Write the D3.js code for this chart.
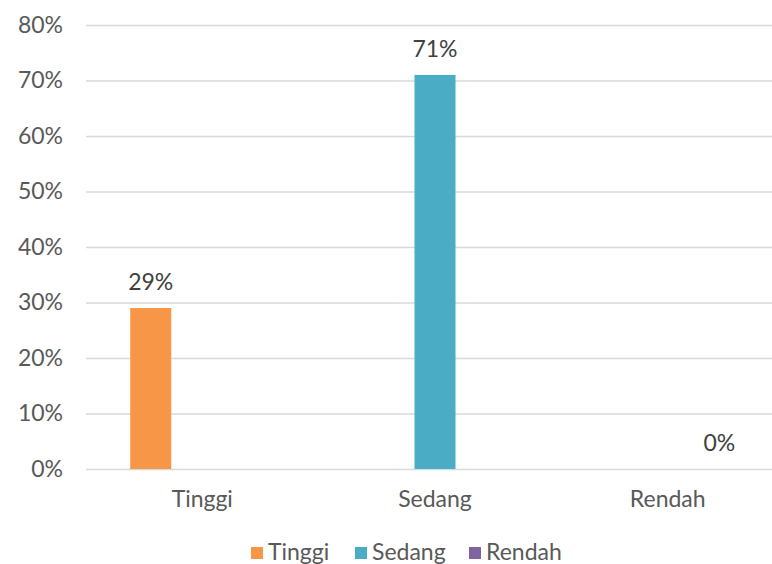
<html>
<head>
<script src="https://d3js.org/d3.v7.min.js"></script>
<style>
	body { margin: 0; background: #fff; }
	text { font-family: Lato, "Open Sans", sans-serif; }
</style>
</head>
<body>
<svg width="772" height="564"></svg>
<script>
	// categories, series and values (null = empty cell)
	var categories = ["Tinggi", "Sedang", "Rendah"];
	var seriesNames = ["Tinggi", "Sedang", "Rendah"];
	var tinggiValues = [0.29, null, null];
	var sedangValues = [null, 0.71, null];
	var rendahValues = [null, null, 0];
	var yTicks = [0, 0.1, 0.2, 0.3, 0.4, 0.5, 0.6, 0.7, 0.8];
	var colors = ["#F79646", "#4BACC6", "#8064A2"];

	var series = [tinggiValues, sedangValues, rendahValues];

	var svg = d3.select("svg");

	// plot area
	var plotLeft = 86, plotRight = 784, plotTop = 25, plotBottom = 469;

	var x = d3.scaleBand().domain(categories).range([plotLeft, plotRight])
		.paddingInner(0.381).paddingOuter(0.19);
	var xInner = d3.scaleBand().domain(seriesNames).range([0, x.bandwidth()])
		.paddingInner(0.204);
	var y = d3.scaleLinear().domain([0, 0.8]).range([plotBottom, plotTop]);

	var pct = d3.format(".0%");

	// gridlines + y labels
	var yAxis = svg.append("g").attr("transform", "translate(" + plotLeft + ",0)")
		.call(d3.axisLeft(y).tickValues(yTicks).tickFormat(pct)
			.tickSize(-(plotRight - plotLeft)).tickPadding(23));
	yAxis.select(".domain").remove();
	yAxis.selectAll(".tick line").attr("stroke", "#d9d9d9").attr("stroke-width", 1.5);
	yAxis.selectAll(".tick text").attr("fill", "#595959")
		.style("font-size", "23px").style("font-family", "Lato, 'Open Sans', sans-serif");

	// x labels
	var xAxis = svg.append("g").attr("transform", "translate(0," + plotBottom + ")")
		.call(d3.axisBottom(x).tickSize(0).tickPadding(22));
	xAxis.select(".domain").remove();
	xAxis.selectAll(".tick text").attr("fill", "#595959")
		.style("font-size", "23px").style("font-family", "Lato, 'Open Sans', sans-serif");

	// bars
	series.forEach(function(vals, si) {
		var g = svg.append("g");
		var cells = vals.map(function(v, ci) { return {cat: categories[ci], v: v}; })
			.filter(function(d) { return d.v !== null; });

		g.selectAll("rect").data(cells).enter().append("rect")
			.attr("x", function(d) { return x(d.cat) + xInner(seriesNames[si]); })
			.attr("y", function(d) { return y(d.v); })
			.attr("width", xInner.bandwidth())
			.attr("height", function(d) { return y(0) - y(d.v); })
			.attr("fill", colors[si]);

		g.selectAll("text").data(cells).enter().append("text")
			.attr("x", function(d) { return x(d.cat) + xInner(seriesNames[si]) + xInner.bandwidth() / 2; })
			.attr("y", function(d) { return y(d.v) - 18; })
			.attr("text-anchor", "middle")
			.attr("fill", "#404040")
			.style("font-size", "23px")
			.text(function(d) { return pct(d.v); });
	});

	// legend
	var legendX = [251, 355, 469];
	var legend = svg.append("g");
	seriesNames.forEach(function(name, i) {
		legend.append("rect").attr("x", legendX[i]).attr("y", 547)
			.attr("width", 12).attr("height", 12).attr("fill", colors[i]);
		legend.append("text").attr("x", legendX[i] + 17).attr("y", 560)
			.attr("fill", "#595959").style("font-size", "23px").text(name);
	});
</script>
</body>
</html>
